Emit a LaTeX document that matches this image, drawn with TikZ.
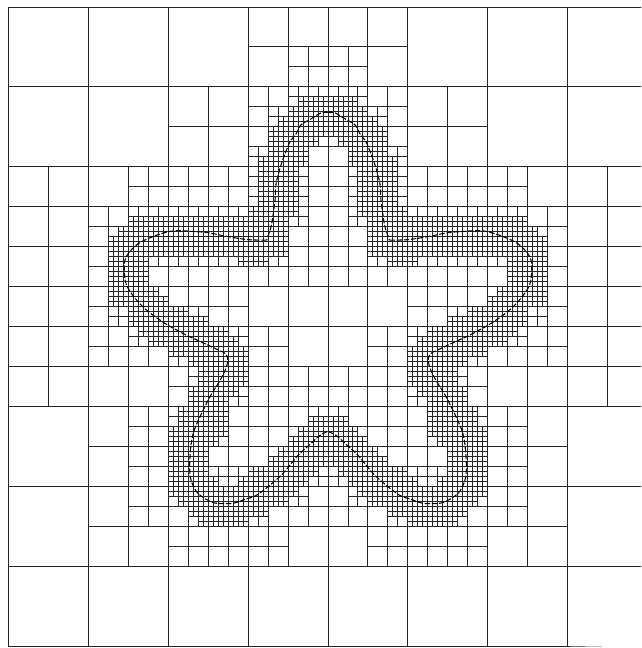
\documentclass[tikz,border=0pt]{standalone}
\newcount\cx
\newcommand\splitrow[4]{%
  \cx=#3\relax
  \loop\ifnum\cx<#4\relax
    \draw[gridline] (\the\cx+#1/2,#2) -- ++(0,#1) (\the\cx,#2+#1/2) -- ++(#1,0)
      (656-\the\cx-#1/2,#2) -- ++(0,#1) (656-\the\cx-#1,#2+#1/2) -- ++(#1,0);
    \advance\cx by #1\relax
  \repeat}
\tikzset{
  gridline/.style={draw=black!85,line width=0.72pt},
  curveline/.style={draw=black,line width=0.8pt,dash pattern=on 4pt off 1.4pt}
}
\newcommand\halfcurve{plot[smooth,tension=0.55] coordinates {
 (328,112.5) (321,113) (311,119) (301,125) (296,134) (290,142) (285,154) (281,165) (276,184) (275,200)
 (273,215) (271,227) (266.5,240.5)}
 plot[smooth,tension=0.55] coordinates {(266.5,240.5) (248,240) (228,237) (208,233) (195,232) (175,231) (158,235) (138,244)
 (126,257) (124,270) (126,285) (135,299) (148,312) (165,324) (185,335) (200,342) (215,349) (226,355)
 (227,365) (221,379) (210,397) (200,417) (193,434) (190,454) (190,477) (196,492) (206,500) (216,504)
 (233,504) (245,500) (258,495) (281,476) (298,456) (310,445) (320,436) (328,432)}}
\begin{document}
\begin{tikzpicture}[x=0.749pt,y=-0.749pt]
\useasboundingbox (-0.5,0) rectangle (641.46,648.97);
\clip (-0.5,0) rectangle (641.46,648.97);
% base grid
\foreach \k in {0,...,8}{
  \draw[gridline] (8+80*\k,7) -- (8+80*\k,647);
}
\foreach \k in {0,...,7}{
  \draw[gridline] (8,7+80*\k) -- (648,7+80*\k);
}
\draw[gridline] (8,647) -- (570,647);
\draw[gridline,draw=black!55] (570,647) -- (585,647);
\draw[gridline,draw=black!25] (585,647) -- (602,647);
% 80 -> 40
\foreach \y/\a/\b in {7/248/328,87/168/328,167/8/328,247/8/328,327/8/328,407/88/328,487/88/328}{\splitrow{80}{\y}{\a}{\b}}
% 40 -> 20
\foreach \y/\a/\b in {47/288/328,87/248/328,127/248/328,167/128/328,207/88/328,247/88/328,287/88/248,327/88/288,367/168/328,407/128/328,447/128/328,487/128/328,527/168/288}{\splitrow{40}{\y}{\a}{\b}}
% 20 -> 10
\foreach \y/\a/\b in {87/288/328,107/268/328,127/268/328,147/248/308,167/248/308,187/248/308,207/128/308,227/108/288,247/108/288,267/108/148,287/108/168,307/108/208,327/128/248,347/168/248,367/188/248,387/188/248,407/168/228,407/308/328,427/168/228,427/288/328,447/168/208,447/268/328,467/168/328,487/168/308,507/188/268}{\splitrow{20}{\y}{\a}{\b}}
% 10 -> 5
\foreach \y/\a/\b in {97/298/328,107/288/328,117/278/328,127/268/328,137/268/318,147/268/308,157/258/308,167/258/298,177/258/298,187/258/298,197/258/298,207/248/298,217/128/288,227/118/288,237/108/288,247/108/288,257/108/148,257/238/268,267/108/148,277/108/148,287/108/158,297/108/168,307/128/188,317/128/208,327/138/228,337/148/238,347/168/248,357/188/248,367/198/248,377/198/248,387/188/238,397/188/228,407/178/228,417/178/228,417/308/328,427/168/228,427/298/328,437/168/218,437/288/328,447/168/208,447/278/328,457/168/208,457/268/328,467/168/208,467/248/318,477/168/218,477/238/308,487/168/298,497/178/288,507/188/268,517/198/248}{\splitrow{10}{\y}{\a}{\b}}
% curve
\draw[curveline] \halfcurve;
\begin{scope}[x=-0.749pt,xshift=491.344pt]
\draw[curveline] \halfcurve;
\end{scope}
\end{tikzpicture}
\end{document}
